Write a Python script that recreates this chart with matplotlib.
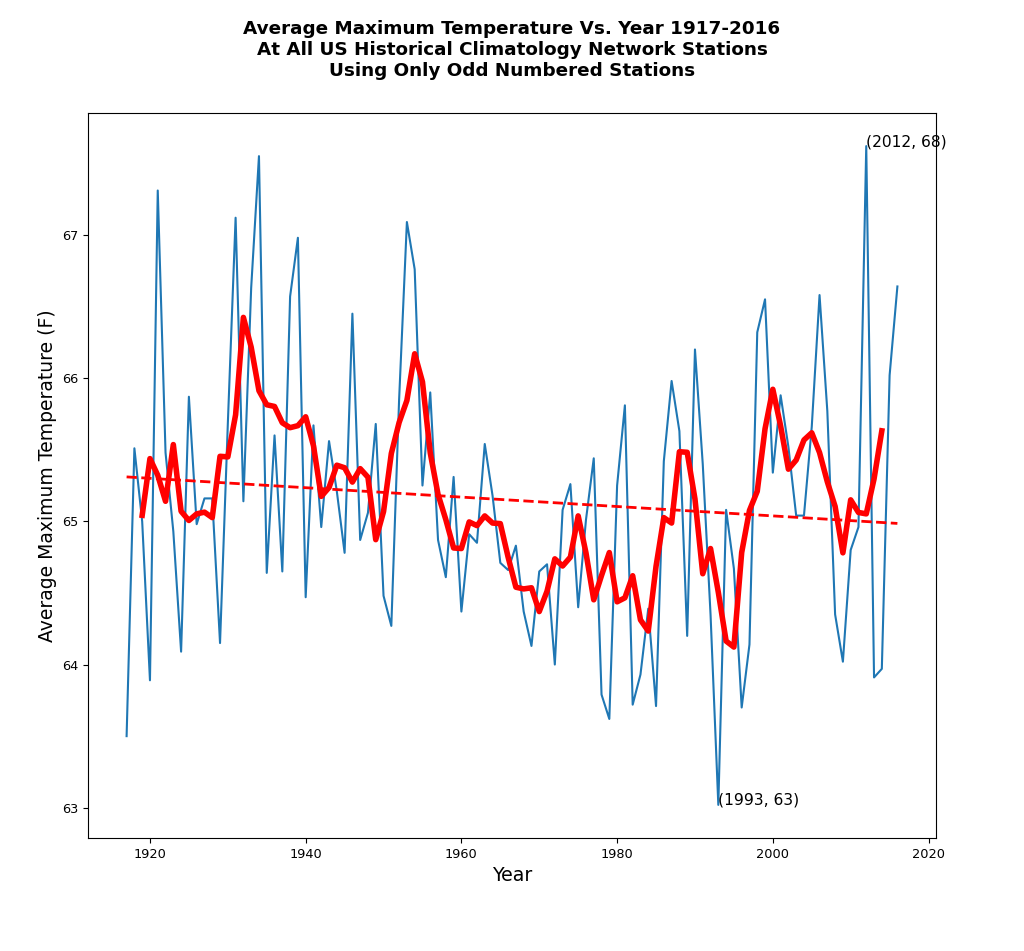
import numpy as np
import pandas as pd
import matplotlib
matplotlib.use('Agg')
import matplotlib.pyplot as plt

# yearly average max temperature (F), odd numbered USHCN stations
years = list(range(1917, 2017))
temps = [
    63.50, 65.51, 65.00, 63.89, 67.31, 65.48, 64.93, 64.09, 65.87, 64.98,  # 1917-1926
    65.16, 65.16, 64.15, 65.68, 67.12, 65.14, 66.63, 67.55, 64.64, 65.60,  # 1927-1936
    64.65, 66.57, 66.98, 64.47, 65.67, 64.96, 65.56, 65.21, 64.78, 66.45,  # 1937-1946
    64.87, 65.06, 65.68, 64.48, 64.27, 65.85, 67.09, 66.76, 65.25, 65.90,  # 1947-1956
    64.87, 64.61, 65.31, 64.37, 64.91, 64.85, 65.54, 65.18, 64.71, 64.66,  # 1957-1966
    64.83, 64.37, 64.13, 64.65, 64.70, 64.00, 65.08, 65.26, 64.40, 65.01,  # 1967-1976
    65.44, 63.79, 63.62, 65.25, 65.81, 63.72, 63.93, 64.39, 63.71, 65.42,  # 1977-1986
    65.98, 65.63, 64.20, 66.20, 65.40, 64.35, 63.02, 65.08, 64.67, 63.70,  # 1987-1996
    64.14, 66.32, 66.55, 65.34, 65.88, 65.52, 65.04, 65.04, 65.66, 66.58,  # 1997-2006
    65.77, 64.35, 64.02, 64.80, 64.96, 67.62, 63.91, 63.97, 66.02, 66.64,  # 2007-2016
]

df = pd.DataFrame({'year': years, 'temp': temps})
# 5 year centred running mean
df['smooth'] = df['temp'].rolling(5, center=True).mean()

# linear trend
slope, intercept = np.polyfit(df['year'], df['temp'], 1)
trend = slope * df['year'] + intercept

fig, ax = plt.subplots(figsize=(10.24, 9.51), dpi=100)
plt.subplots_adjust(left=0.086, right=0.914, top=0.881, bottom=0.119)

ax.plot(df['year'], df['temp'], color='#1f77b4', lw=1.5)
ax.plot(df['year'], df['smooth'], color='red', lw=4)
ax.plot(df['year'], trend, color='red', lw=2, linestyle='--')

# label the extremes
imax = df['temp'].idxmax()
imin = df['temp'].idxmin()
for i in [imax, imin]:
    yr = df.loc[i, 'year']
    t = df.loc[i, 'temp']
    ax.annotate(f"({yr}, {int(round(t))})", (yr, t), fontsize=11.2)

ax.tick_params(labelsize=9.3)
ax.set_xlabel('Year', fontsize=13.7)
ax.set_ylabel('Average Maximum Temperature (F)', fontsize=13.5)
ax.set_yticks([63, 64, 65, 66, 67])
ax.set_title('Average Maximum Temperature Vs. Year 1917-2016\n'
             'At All US Historical Climatology Network Stations\n'
             'Using Only Odd Numbered Stations',
             fontsize=13.2, fontweight='bold', pad=27)

plt.savefig('out.png', dpi=100)
